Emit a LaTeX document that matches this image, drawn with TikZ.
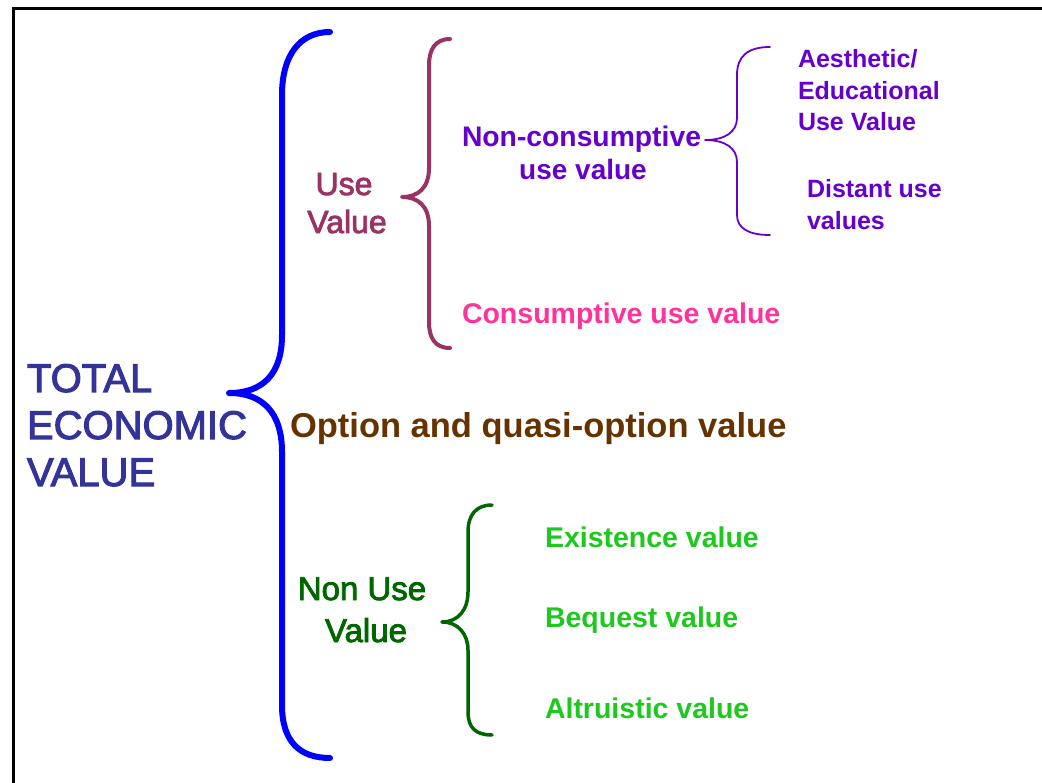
\documentclass[tikz,border=0pt]{standalone}
\usepackage{fontspec}
\setmainfont{Liberation Sans}
\newfontfamily\medfont[FakeBold=2.6]{Liberation Sans}
\definecolor{tevblue}{HTML}{333399}
\definecolor{bigblue}{HTML}{0000FF}
\definecolor{plum}{HTML}{993366}
\definecolor{violet}{HTML}{6600CC}
\definecolor{pinkc}{HTML}{FF3399}
\definecolor{brownc}{HTML}{663300}
\definecolor{dgreen}{HTML}{006600}
\definecolor{lgreen}{HTML}{1EC81E}
\tikzset{
  lbl/.style={inner sep=0pt, outer sep=0pt},
  bracestroke/.style={line cap=round, line join=round},
}
\newcommand{\fs}[1]{\fontsize{#1}{#1}\selectfont}
\begin{document}
\begin{tikzpicture}[x=1pt,y=-1pt]
\useasboundingbox[fill=white] (0,0) rectangle (1042,783);
% frame
\draw[line width=3pt] (13,783) -- (13,9) -- (1042,9);

% blue brace
\draw[bigblue, line width=6pt, bracestroke]
  (330,32) .. controls (300,32) and (282,55) .. (282,95)
  -- (282,335) .. controls (282,375) and (262,393) .. (229,393)
  .. controls (262,393) and (282,412) .. (282,452)
  -- (282,705) .. controls (282,742) and (300,758) .. (330,758);

% plum brace
\draw[plum, line width=4pt, bracestroke]
  (450,39) .. controls (435,39) and (429,50) .. (429,65)
  -- (429,168) .. controls (429,188) and (418,197) .. (402,197)
  .. controls (418,197) and (429,206) .. (429,226)
  -- (429,322) .. controls (429,338) and (435,348) .. (450,348);

% purple brace
\draw[violet, line width=1.8pt, bracestroke]
  (770,47) .. controls (748,47) and (737,56) .. (737,75)
  -- (737,118) .. controls (737,132) and (725,140) .. (705,140)
  .. controls (725,140) and (737,148) .. (737,162)
  -- (737,215) .. controls (737,228) and (748,235) .. (770,235);

% green brace
\draw[dgreen, line width=3.5pt, bracestroke]
  (492,505) .. controls (476,505) and (468,515) .. (468,532)
  -- (468,592) .. controls (468,610) and (458,622) .. (442,622)
  .. controls (458,622) and (468,634) .. (468,650)
  -- (468,712) .. controls (468,728) and (476,735) .. (492,735);

% TOTAL ECONOMIC VALUE
\node[lbl, anchor=base west, text=tevblue, font=\medfont\fs{40}] (tev1) at (27,392) {TOTAL};
\node[lbl, anchor=base west, text=tevblue, font=\medfont\fs{40}] (tev2) at (27,439) {ECONOMIC};
\node[lbl, anchor=base west, text=tevblue, font=\medfont\fs{40}] (tev3) at (27,486) {VALUE};

% Use Value
\node[lbl, anchor=base, text=plum, font=\medfont\fs{32}] (uv1) at (344,195) {Use};
\node[lbl, anchor=base, text=plum, font=\medfont\fs{32}] (uv2) at (347,233) {Value};

% Non-consumptive
\node[lbl, anchor=base west, text=violet, font=\bfseries\fs{28.3}] (nc1) at (462,147) {Non-consumptive};
\node[lbl, anchor=base, text=violet, font=\bfseries\fs{28}] (nc2) at (583,180) {use value};

% Aesthetic / Distant
\node[lbl, anchor=base west, text=violet, font=\bfseries\fs{25}] (ae1) at (798,68) {Aesthetic/};
\node[lbl, anchor=base west, text=violet, font=\bfseries\fs{25}] (ae2) at (798,100) {Educational};
\node[lbl, anchor=base west, text=violet, font=\bfseries\fs{25}] (ae3) at (798,131) {Use Value};
\node[lbl, anchor=base west, text=violet, font=\bfseries\fs{25}] (du1) at (807,198) {Distant use};
\node[lbl, anchor=base west, text=violet, font=\bfseries\fs{25}] (du2) at (807,230) {values};

% Consumptive
\node[lbl, anchor=base west, text=pinkc, font=\bfseries\fs{28.5}] (cu) at (462,324) {Consumptive use value};

% Option
\node[lbl, anchor=base west, text=brownc, font=\bfseries\fs{34.5}] (opt) at (290,438) {Option and quasi-option value};

% Non Use Value
\node[lbl, anchor=base, text=dgreen, font=\medfont\fs{33}] (nu1) at (362,600) {Non Use};
\node[lbl, anchor=base, text=dgreen, font=\medfont\fs{33}] (nu2) at (366,642) {Value};

% green items
\node[lbl, anchor=base west, text=lgreen, font=\bfseries\fs{28.5}] (ex) at (545,547) {Existence value};
\node[lbl, anchor=base west, text=lgreen, font=\bfseries\fs{28.5}] (bq) at (545,627) {Bequest value};
\node[lbl, anchor=base west, text=lgreen, font=\bfseries\fs{28.5}] (al) at (545,718) {Altruistic value};
\end{tikzpicture}
\end{document}
